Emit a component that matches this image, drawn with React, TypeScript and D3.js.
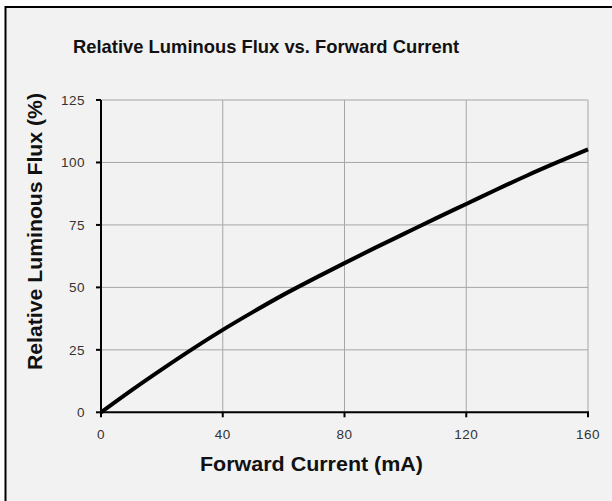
import { line, curveMonotoneX, scaleLinear } from "d3";
import { FC } from "react";

// forward current (mA) and relative flux (%)
const current = [0, 10, 20, 30, 40, 50, 60, 70, 80, 90, 100, 110, 120, 130, 140, 150, 160];
const flux = [0, 8.8, 17.2, 25.3, 33.0, 40.2, 47.1, 53.5, 59.7, 65.8, 71.7, 77.6, 83.4, 89.2, 94.8, 100.1, 105.2];
const xTicks = [0, 40, 80, 120, 160];
const yTicks = [0, 25, 50, 75, 100, 125];

const W = 612;
const H = 501;
const left = 101;
const right = 588;
const top = 100;
const bottom = 412.3;

const App: FC = () => {
  const x = scaleLinear().domain([0, 160]).range([left, right]);
  const y = scaleLinear().domain([0, 125]).range([bottom, top]);

  const path = line<number>()
    .x((_, i) => x(current[i]))
    .y((d) => y(d))
    .curve(curveMonotoneX)(flux)!;

  const font = "'Liberation Sans', Arial, Helvetica, sans-serif";

  return (
    <svg
      width={W}
      height={H}
      style={{ position: "absolute", left: 0, top: 0 }}
      fontFamily={font}
    >
      <rect x={0} y={0} width={W} height={H} fill="#fff" />
      {/* frame, runs off the right and bottom of the picture */}
      <rect x={5.5} y={7} width={W + 10} height={H + 10} fill="#f2f2f2" stroke="#000" strokeWidth={2} />

      <text x={266} y={52.5} textAnchor="middle" fontSize={19} fontWeight="bold" fill="#111"
        textLength={386} lengthAdjust="spacingAndGlyphs">
        Relative Luminous Flux vs. Forward Current
      </text>

      {/* grid */}
      {yTicks.filter((t) => t > 0).map((t) => (
        <line key={"gy" + t} x1={left} x2={right} y1={y(t)} y2={y(t)} stroke="#a6a6a6" strokeWidth={1} />
      ))}
      {xTicks.filter((t) => t > 0).map((t) => (
        <line key={"gx" + t} x1={x(t)} x2={x(t)} y1={top} y2={bottom} stroke="#a6a6a6" strokeWidth={1} />
      ))}

      {/* axes */}
      <line x1={left} x2={left} y1={top} y2={bottom} stroke="#000" strokeWidth={2} />
      <line x1={left - 1} x2={right + 1} y1={bottom} y2={bottom} stroke="#000" strokeWidth={2} />
      {yTicks.map((t) => (
        <g key={"ty" + t}>
          <line x1={left - 5} x2={left} y1={y(t)} y2={y(t)} stroke="#000" strokeWidth={2} />
          <text x={85} y={y(t) + 5} textAnchor="end" fontSize={13.5} fill="#333" letterSpacing={0.5}>
            {t}
          </text>
        </g>
      ))}
      {xTicks.map((t) => (
        <g key={"tx" + t}>
          <line x1={x(t)} x2={x(t)} y1={bottom} y2={bottom + 5} stroke="#000" strokeWidth={2} />
          <text x={x(t)} y={439} textAnchor="middle" fontSize={13.5} fill="#333" letterSpacing={0.5}>
            {t}
          </text>
        </g>
      ))}

      <path d={path} fill="none" stroke="#000" strokeWidth={4} />

      <text x={311.5} y={470.5} textAnchor="middle" fontSize={19.5} fontWeight="bold" fill="#111"
        textLength={223} lengthAdjust="spacingAndGlyphs">
        Forward Current (mA)
      </text>
      <text
        transform={`translate(42,231.5) rotate(-90)`}
        textAnchor="middle"
        fontSize={19.5}
        fontWeight="bold"
        fill="#111"
        textLength={277}
        lengthAdjust="spacingAndGlyphs"
      >
        Relative Luminous Flux (%)
      </text>
    </svg>
  );
};

export default App;
